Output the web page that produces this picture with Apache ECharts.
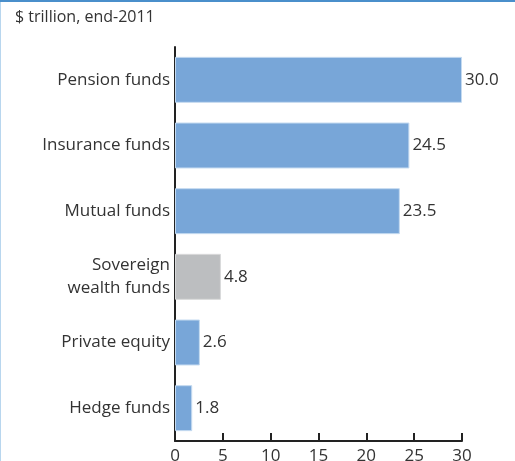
<!DOCTYPE html>
<html>
<head>
<meta charset="utf-8">
<script src="https://cdn.jsdelivr.net/npm/echarts@6/dist/echarts.min.js"></script>
<style>
  html, body { margin: 0; padding: 0; background: #fff; }
  #chart { width: 515px; height: 461px; }
</style>
</head>
<body>
<div id="chart"></div>
<script>
// Global assets under management, $ trillion, end-2011
const categories = [
  'Pension funds',
  'Insurance funds',
  'Mutual funds',
  'Sovereign\nwealth funds',
  'Private equity',
  'Hedge funds'
];
const assets = [30.0, 24.5, 23.5, 4.8, 2.6, 1.8];
const highlighted = 'Sovereign\nwealth funds';
const xTicks = [0, 5, 10, 15, 20, 25, 30];

const BLUE = '#78a6d8';
const GREY = '#bcbec0';
const FONT = 'Open Sans';

const chart = echarts.init(document.getElementById('chart'), null, { renderer: 'canvas' });

chart.setOption({
  animation: false,
  backgroundColor: '#ffffff',
  textStyle: { fontFamily: FONT },
  graphic: [
    { type: 'rect', shape: { x: 0, y: 0, width: 515, height: 2 }, style: { fill: '#4a8fcb' } },
    { type: 'rect', shape: { x: 0, y: 2, width: 1, height: 459 }, style: { fill: '#b8d6ee' } },
    {
      type: 'text', left: 15, top: 9,
      style: { text: '$ trillion, end-2011', font: '16px "Open Sans"', fill: '#333333' }
    }
  ],
  grid: { left: 175, right: 53, top: 47, bottom: 20, containLabel: false, outerBoundsMode: 'none' },
  xAxis: {
    type: 'value',
    min: xTicks[0],
    max: xTicks[xTicks.length - 1],
    interval: 5,
    axisLine: { show: true, lineStyle: { color: '#222222', width: 2 } },
    axisTick: { show: true, inside: true, length: 8, lineStyle: { color: '#222222', width: 2 } },
    splitLine: { show: false },
    axisLabel: { color: '#333333', fontSize: 17, fontFamily: FONT, margin: 7 }
  },
  yAxis: {
    type: 'category',
    data: categories,
    inverse: true,
    axisLine: { show: true, lineStyle: { color: '#222222', width: 2 } },
    axisTick: { show: false },
    axisLabel: {
      color: '#333333', fontSize: 17, fontFamily: FONT, margin: 5,
      lineHeight: 23, align: 'right'
    }
  },
  series: [{
    type: 'bar',
    barWidth: '70%',
    data: categories.map((c, i) => ({
      value: assets[i],
      itemStyle: {
        color: c === highlighted ? GREY : BLUE,
        borderColor: c === highlighted ? '#d8d9da' : '#c4daf0',
        borderWidth: 1
      }
    })),
    label: {
      show: true,
      position: 'right',
      distance: 3,
      color: '#333333',
      fontSize: 17,
      fontFamily: FONT,
      formatter: p => p.value.toFixed(1)
    }
  }]
});
</script>
</body>
</html>
